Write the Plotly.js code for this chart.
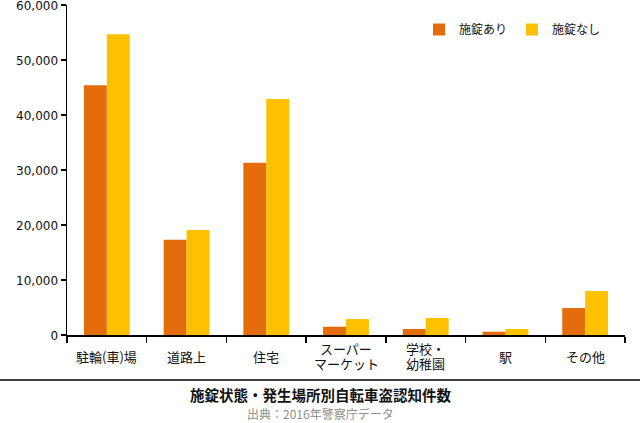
<!DOCTYPE html>
<html>
<head>
<meta charset="utf-8">
<script src="https://cdn.plot.ly/plotly-3.0.1.min.js"></script>
<style>html,body{margin:0;padding:0;background:#fff}#chart{width:640px;height:423px}</style>
</head>
<body>
<div id="chart"></div>
<script>
var categories = ["駐輪(車)場", "道路上", "住宅", "スーパー<br>マーケット", "学校・<br>幼稚園", "駅", "その他"];
var lockedValues = [45400, 17300, 31300, 1500, 1100, 600, 4900];
var unlockedValues = [54700, 19100, 42900, 2900, 3100, 1100, 8000];
var seriesNames = ["施錠あり", "施錠なし"];
var yTickValues = [0, 10000, 20000, 30000, 40000, 50000, 60000];
var chartTitle = "施錠状態・発生場所別自転車盗認知件数";
var chartSource = "出典：2016年警察庁データ";

var FONT = '"Noto Sans CJK JP", "Noto Sans", sans-serif';
var W = 640, H = 423, L = 67, R = 15, T = 5, B = 88;
var plotH = H - T - B, plotW = W - L - R;
function py(p) { return (H - B - p) / plotH; }
function px(p) { return (p - L) / plotW; }

var traces = [
  {type: 'bar', name: seriesNames[0], x: categories, y: lockedValues, marker: {color: '#E46C0A'}, hoverinfo: 'x+y'},
  {type: 'bar', name: seriesNames[1], x: categories, y: unlockedValues, marker: {color: '#FFC000'}, hoverinfo: 'x+y'}
];

var annotations = [];
categories.forEach(function (c) {
  var lines = c.split('<br>');
  var lineGap = 14.5;
  var center = 356;
  lines.forEach(function (ln, i) {
    var yc = center + (i - (lines.length - 1) / 2) * lineGap;
    annotations.push({x: c, xref: 'x', yref: 'paper', y: py(yc), yanchor: 'middle', xanchor: 'center',
      text: ln, showarrow: false, borderpad: 0, font: {family: FONT, size: 13, color: '#111'}});
  });
});
annotations.push({xref: 'paper', yref: 'paper', x: px(320), y: py(394.5), xanchor: 'center', yanchor: 'middle',
  text: '<b>' + chartTitle + '</b>', showarrow: false, borderpad: 0, font: {family: FONT, size: 14.5, color: '#111'}});
annotations.push({xref: 'paper', yref: 'paper', x: px(320), y: py(413.5), xanchor: 'center', yanchor: 'middle',
  text: chartSource, showarrow: false, borderpad: 0, font: {family: FONT, size: 12, color: '#8f8f8f'}});

var layout = {
  width: W, height: H,
  margin: {l: L, r: R, t: T, b: B, pad: 0},
  paper_bgcolor: '#fff', plot_bgcolor: '#fff',
  font: {family: FONT, size: 12, color: '#111'},
  barmode: 'group', bargap: 0.425, bargroupgap: 0,
  showlegend: true,
  legend: {orientation: 'h', x: px(419), y: py(15), xanchor: 'left', yanchor: 'top',
    font: {family: FONT, size: 12, color: '#111'}, bgcolor: 'rgba(0,0,0,0)', traceorder: 'normal'},
  xaxis: {type: 'category', showticklabels: false, ticks: 'outside', tickson: 'boundaries', ticklen: 6,
    tickcolor: '#000', tickwidth: 1.5, showline: true, linecolor: '#000', linewidth: 1.5, showgrid: false,
    zeroline: false, fixedrange: true},
  yaxis: {range: [0, 60000], tickvals: yTickValues, tickformat: ',d', ticks: 'outside', ticklen: 5,
    ticklabeloverflow: 'allow', ticklabelshift: 1,
    tickcolor: '#000', tickwidth: 1.5, showline: true, linecolor: '#000', linewidth: 1.5, showgrid: false,
    zeroline: false, tickfont: {family: '"DejaVu Sans", sans-serif', size: 12, color: '#111'}, fixedrange: true},
  shapes: [{type: 'line', xref: 'paper', yref: 'paper', x0: px(0), x1: px(640), y0: py(380), y1: py(380),
    line: {color: '#000', width: 1.5}}],
  annotations: annotations
};

Plotly.newPlot('chart', traces, layout, {displayModeBar: false, staticPlot: true});
</script>
</body>
</html>
